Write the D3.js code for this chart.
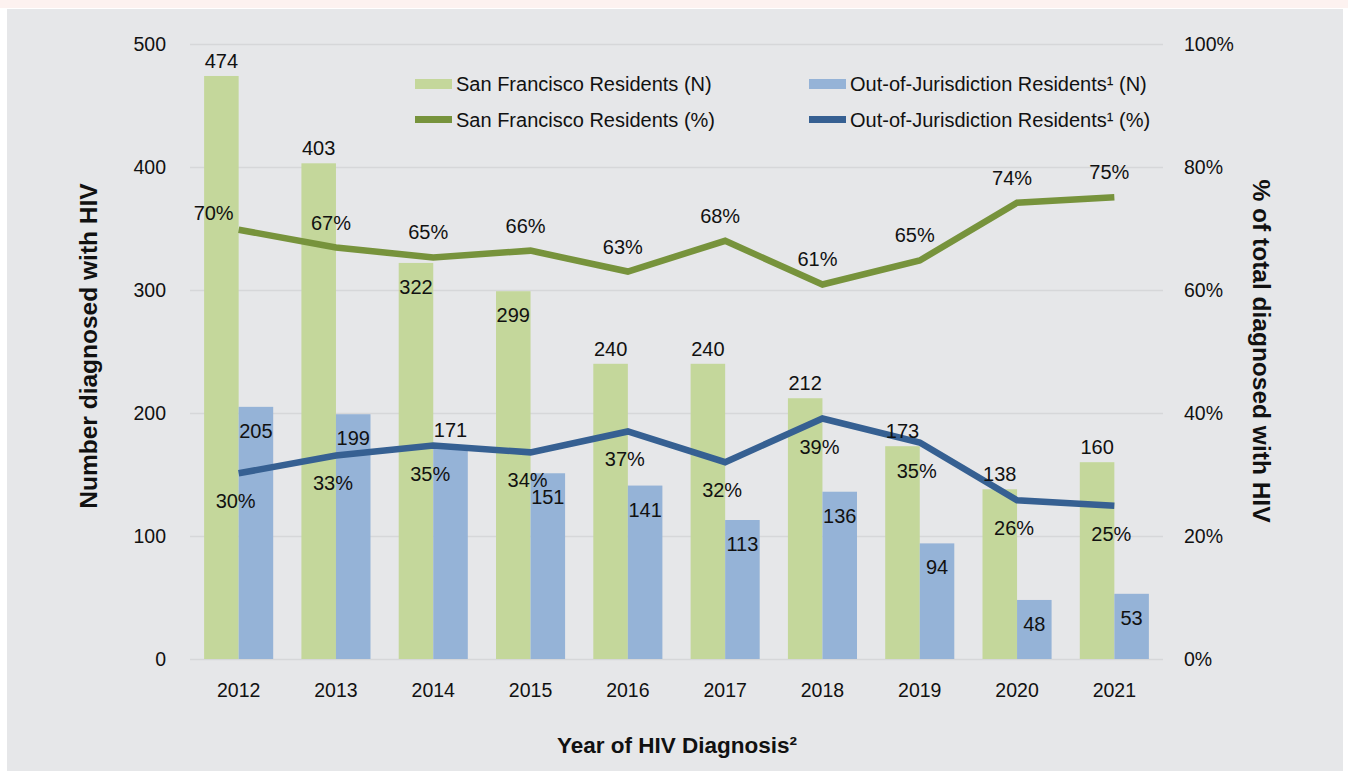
<!DOCTYPE html>
<html>
<head>
<meta charset="utf-8">
<script src="https://cdn.jsdelivr.net/npm/d3@7"></script>
<style>
  body { margin: 0; background: #ffffff; }
  text { font-family: "Liberation Sans", Arial, sans-serif; fill: #111; }
</style>
</head>
<body>
<div id="chart"></div>
<script>
var width = 1348,
    height = 771;

// data
var years = ['2012', '2013', '2014', '2015', '2016', '2017', '2018', '2019', '2020', '2021'];
var sfCount = [474, 403, 322, 299, 240, 240, 212, 173, 138, 160];
var oojCount = [205, 199, 171, 151, 141, 113, 136, 94, 48, 53];
var sfPct = [69.8, 66.9, 65.3, 66.4, 63.0, 68.0, 60.9, 64.8, 74.2, 75.1];
var oojPct = [30.2, 33.1, 34.7, 33.6, 37.0, 32.0, 39.1, 35.2, 25.8, 24.9];
var leftTicks = [0, 100, 200, 300, 400, 500];
var rightTicks = [0, 20, 40, 60, 80, 100];

// where each value label sits
var sfCountPos = ['out', 'out', 'in', 'in', 'out', 'out', 'out', 'out', 'out', 'out'];
var oojCountPos = ['in', 'in', 'out', 'in', 'in', 'in', 'in', 'in', 'in', 'in'];
var sfPctPos = ['left', 'above', 'above', 'above', 'above', 'above', 'above', 'above', 'above', 'above'];

var colors = {
    sfBar: '#c4d79b',
    oojBar: '#95b3d7',
    sfLine: '#77933c',
    oojLine: '#366092'
};

var svg = d3.select('#chart')
    .append('svg')
    .attr('width', width)
    .attr('height', height);

// backgrounds
svg.append('rect').attr('x', 0).attr('y', 0).attr('width', width).attr('height', 8).attr('fill', '#fdf2f0');
svg.append('rect').attr('x', 7).attr('y', 9).attr('width', 1336).attr('height', height - 9).attr('fill', '#e6e7e9');

var x = d3.scaleBand()
    .domain(years)
    .range([190, 1163])
    .paddingInner(0.29)
    .paddingOuter(0.145);

var x1 = d3.scaleBand()
    .domain(['sf', 'ooj'])
    .range([0, x.bandwidth()]);

var y = d3.scaleLinear().domain([0, 500]).range([659, 44]);
var yPct = d3.scaleLinear().domain([0, 100]).range([659, 44]);

var cx = d => x(d) + x.bandwidth() / 2;

// gridlines
svg.append('g')
    .selectAll('line')
    .data(leftTicks)
    .enter()
    .append('line')
    .attr('x1', 190)
    .attr('x2', 1163)
    .attr('y1', d => y(d) + 0.5)
    .attr('y2', d => y(d) + 0.5)
    .attr('stroke', '#d6d7d9')
    .attr('stroke-width', 1.5);

// axes
var leftAxis = svg.append('g')
    .attr('transform', 'translate(190,0)')
    .call(d3.axisLeft(y).tickValues(leftTicks).tickSize(0).tickPadding(24));
var rightAxis = svg.append('g')
    .attr('transform', 'translate(1163,0)')
    .call(d3.axisRight(yPct).tickValues(rightTicks).tickSize(0).tickPadding(21).tickFormat(d => d + '%'));
var bottomAxis = svg.append('g')
    .attr('transform', 'translate(0,659)')
    .call(d3.axisBottom(x).tickSize(0).tickPadding(24));

[leftAxis, rightAxis, bottomAxis].forEach(a => {
    a.select('.domain').remove();
    a.selectAll('text')
        .attr('font-size', 19.5)
        .attr('font-family', '"Liberation Sans", Arial, sans-serif')
        .attr('fill', '#111');
});

// bars
var groups = svg.append('g')
    .selectAll('g')
    .data(years)
    .enter()
    .append('g')
    .attr('transform', d => 'translate(' + x(d) + ',0)');

groups.append('rect')
    .attr('x', x1('sf'))
    .attr('y', (d, i) => y(sfCount[i]))
    .attr('width', x1.bandwidth())
    .attr('height', (d, i) => y(0) - y(sfCount[i]))
    .attr('fill', colors.sfBar);

groups.append('rect')
    .attr('x', x1('ooj'))
    .attr('y', (d, i) => y(oojCount[i]))
    .attr('width', x1.bandwidth())
    .attr('height', (d, i) => y(0) - y(oojCount[i]))
    .attr('fill', colors.oojBar);

// lines
var line = d3.line()
    .x(d => cx(d[0]))
    .y(d => yPct(d[1]));

svg.append('path')
    .datum(years.map((d, i) => [d, sfPct[i]]))
    .attr('d', line)
    .attr('fill', 'none')
    .attr('stroke', colors.sfLine)
    .attr('stroke-width', 6.5);

svg.append('path')
    .datum(years.map((d, i) => [d, oojPct[i]]))
    .attr('d', line)
    .attr('fill', 'none')
    .attr('stroke', colors.oojLine)
    .attr('stroke-width', 6.5);

// value labels
var labels = svg.append('g')
    .attr('font-size', 20)
    .attr('text-anchor', 'middle');

labels.selectAll('.sfn')
    .data(years)
    .enter()
    .append('text')
    .attr('x', d => x(d) + x1('sf') + x1.bandwidth() / 2)
    .attr('y', (d, i) => y(sfCount[i]) + (sfCountPos[i] === 'out' ? -15 : 24))
    .attr('dy', '0.35em')
    .text((d, i) => sfCount[i]);

labels.selectAll('.oojn')
    .data(years)
    .enter()
    .append('text')
    .attr('x', d => x(d) + x1('ooj') + x1.bandwidth() / 2)
    .attr('y', (d, i) => y(oojCount[i]) + (oojCountPos[i] === 'out' ? -19 : 24))
    .attr('dy', '0.35em')
    .text((d, i) => oojCount[i]);

labels.selectAll('.sfp')
    .data(years)
    .enter()
    .append('text')
    .attr('x', (d, i) => cx(d) + (sfPctPos[i] === 'left' ? -25 : -5))
    .attr('y', (d, i) => yPct(sfPct[i]) + (sfPctPos[i] === 'left' ? -17 : -25))
    .attr('dy', '0.35em')
    .text((d, i) => Math.round(sfPct[i]) + '%');

labels.selectAll('.oojp')
    .data(years)
    .enter()
    .append('text')
    .attr('x', d => cx(d) - 3)
    .attr('y', (d, i) => yPct(oojPct[i]) + 28)
    .attr('dy', '0.35em')
    .text((d, i) => Math.round(oojPct[i]) + '%');

// axis titles
svg.append('text')
    .attr('x', 677)
    .attr('y', 745)
    .attr('dy', '0.35em')
    .attr('text-anchor', 'middle')
    .attr('font-size', 22.5)
    .attr('font-weight', 'bold')
    .text('Year of HIV Diagnosis²');

svg.append('text')
    .attr('transform', 'translate(88,346)rotate(-90)')
    .attr('dy', '0.35em')
    .attr('text-anchor', 'middle')
    .attr('font-size', 24.5)
    .attr('font-weight', 'bold')
    .text('Number diagnosed with HIV');

svg.append('text')
    .attr('transform', 'translate(1262,351)rotate(90)')
    .attr('dy', '0.35em')
    .attr('text-anchor', 'middle')
    .attr('font-size', 24.5)
    .attr('font-weight', 'bold')
    .text('% of total diagnosed with HIV');

// legend
var legendItems = [
    { label: 'San Francisco Residents (N)', color: colors.sfBar, type: 'bar', col: 0, row: 0 },
    { label: 'Out-of-Jurisdiction Residents¹ (N)', color: colors.oojBar, type: 'bar', col: 1, row: 0 },
    { label: 'San Francisco Residents (%)', color: colors.sfLine, type: 'line', col: 0, row: 1 },
    { label: 'Out-of-Jurisdiction Residents¹ (%)', color: colors.oojLine, type: 'line', col: 1, row: 1 }
];

var legend = svg.append('g')
    .selectAll('g')
    .data(legendItems)
    .enter()
    .append('g')
    .attr('transform', d => 'translate(' + (415 + d.col * 394) + ',' + (84 + d.row * 36) + ')');

legend.append('rect')
    .attr('x', 0)
    .attr('y', d => d.type === 'bar' ? -5 : -4)
    .attr('width', 37)
    .attr('height', d => d.type === 'bar' ? 10 : 7)
    .attr('fill', d => d.color);

legend.append('text')
    .attr('x', 41)
    .attr('dy', '0.35em')
    .attr('font-size', 20)
    .text(d => d.label);
</script>
</body>
</html>
